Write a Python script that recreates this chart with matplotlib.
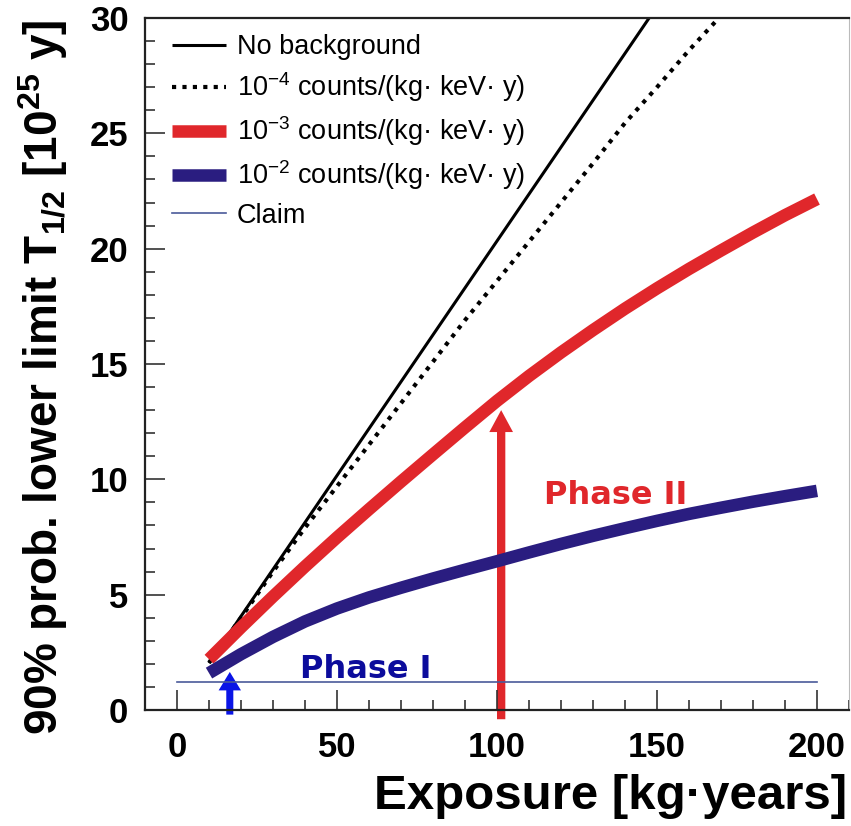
import matplotlib
matplotlib.use("Agg")
import matplotlib.pyplot as plt
from matplotlib.ticker import MultipleLocator

# sensitivity curves
exposure = [10, 20, 30, 40, 50, 60, 70, 80, 90, 100,
            110, 120, 130, 140, 150, 160, 170, 180, 190, 200]
exposure_nobkg = [10, 150]
t_nobkg = [2.03, 30.5]
exposure_bkg4 = exposure[:17]
t_bkg4 = [2.05, 4.0, 6.0, 7.9, 9.7, 11.5, 13.3, 15.1, 16.9, 18.6,
          20.3, 22.0, 23.7, 25.45, 27.0, 28.6, 30.1]
t_bkg3 = [2.2, 3.58, 4.92, 6.22, 7.48, 8.7, 9.9, 11.08, 12.25, 13.4,
          14.48, 15.5, 16.47, 17.4, 18.28, 19.12, 19.92, 20.7, 21.45, 22.15]
t_bkg2 = [1.6, 2.42, 3.17, 3.84, 4.4, 4.88, 5.3, 5.7, 6.08, 6.45,
          6.83, 7.2, 7.55, 7.88, 8.2, 8.5, 8.77, 9.03, 9.27, 9.5]
claim_x = [0, 200]
claim_t = [1.2, 1.2]

labels = [
    "No background",
    "10$^{-4}$ counts/(kg\u00b7 keV\u00b7 y)",
    "10$^{-3}$ counts/(kg\u00b7 keV\u00b7 y)",
    "10$^{-2}$ counts/(kg\u00b7 keV\u00b7 y)",
    "Claim",
]

# phase markers: (x, base, tip)
phase1_arrow = (16.5, -0.2, 1.65)
phase2_arrow = (101.3, -0.4, 13.0)
phase1_text = (59, 1.75)
phase2_text = (137, 9.3)

RED = "#e0272b"
NAVY = "#2a1d80"
CLAIM = "#4a5a9a"

plt.rcParams["font.family"] = ["Liberation Sans", "DejaVu Sans"]
plt.rcParams["mathtext.fontset"] = "custom"
plt.rcParams["mathtext.rm"] = "Liberation Sans"
plt.rcParams["mathtext.bf"] = "Liberation Sans:bold"
plt.rcParams["mathtext.it"] = "Liberation Sans:italic"

fig = plt.figure(figsize=(8.51, 8.26), dpi=100)
ax = fig.add_axes([145 / 851, 116 / 826, 704 / 851, 692 / 826])

ax.plot(exposure_nobkg, t_nobkg, color="black", lw=2.2,
        solid_capstyle="butt", label=labels[0])
ax.plot(exposure_bkg4, t_bkg4, color="black", lw=3,
        linestyle=(0, (1, 1.5)), label=labels[1])
ax.plot(exposure, t_bkg3, color=RED, lw=9, solid_capstyle="butt",
        label=labels[2])
ax.plot(exposure, t_bkg2, color=NAVY, lw=9, solid_capstyle="butt",
        label=labels[3])
ax.plot(claim_x, claim_t, color=CLAIM, lw=1.2, label=labels[4])

# arrows marking the two phases
x, y0, y1 = phase1_arrow
ax.arrow(x, y0, 0, y1 - y0, width=2.2, head_width=7.0, head_length=0.8,
         length_includes_head=True, color="#0a14e6", lw=0, clip_on=False)
x, y0, y1 = phase2_arrow
ax.arrow(x, y0, 0, y1 - y0, width=2.6, head_width=7.4, head_length=0.95,
         length_includes_head=True, color=RED, lw=0, clip_on=False)

ax.text(*phase1_text, "Phase I", color="#0c0c9c", fontsize=23,
        fontweight="bold", family="DejaVu Sans", ha="center", va="center")
ax.text(*phase2_text, "Phase II", color=RED, fontsize=23,
        fontweight="bold", family="DejaVu Sans", ha="center", va="center")

ax.set_xlim(-10, 210)
ax.set_ylim(0, 30)
ax.xaxis.set_major_locator(MultipleLocator(50))
ax.xaxis.set_minor_locator(MultipleLocator(10))
ax.yaxis.set_major_locator(MultipleLocator(5))
ax.yaxis.set_minor_locator(MultipleLocator(1))
ax.tick_params(which="both", direction="in", top=False, right=False,
               width=1.2, color="#333333")
ax.tick_params(which="major", length=14.5)
ax.tick_params(which="minor", length=7.5)
ax.tick_params(axis="x", which="major", pad=15, labelsize=25)
ax.tick_params(axis="y", which="major", pad=12, labelsize=25)
for lab in ax.get_xticklabels() + ax.get_yticklabels():
    lab.set_fontweight("bold")
for side in ["left", "bottom", "top"]:
    ax.spines[side].set_linewidth(1.6)
    ax.spines[side].set_color("#222222")
ax.spines["right"].set_color("#bbbbbb")

ax.set_xlabel("Exposure [kg\u00b7years]", fontsize=35.5, fontweight="bold",
              loc="right")
ax.xaxis.set_label_coords(0.997, -0.092)
ax.set_ylabel(r"90% prob. lower limit T$_{\mathbf{1/2}}$ [10$^{\mathbf{25}}$ y]",
              fontsize=33, fontweight="bold", loc="top")
ax.yaxis.set_label_coords(-0.106, 0.997)

ax.legend(loc="upper left", bbox_to_anchor=(27 / 704, 1 - 16 / 692),
          frameon=False, fontsize=19.5, handlelength=2.0, handletextpad=0.4,
          labelspacing=0.38, borderpad=0, borderaxespad=0)

fig.savefig("out.png", dpi=100)
